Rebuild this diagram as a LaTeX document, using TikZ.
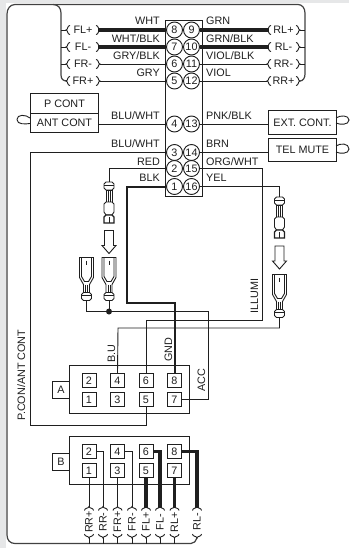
\documentclass[tikz,border=0pt]{standalone}
\usepackage{fontspec}
\setmainfont{Liberation Sans}
\usetikzlibrary{calc}
\definecolor{ink}{HTML}{1F1F1F}
\definecolor{strip}{HTML}{E6E7E8}
\tikzset{
  x=1pt,y=-1pt,
  every node/.style={font=\fontsize{10.8}{11}\selectfont,text=ink,inner sep=0pt},
  wire/.style={draw=ink,line width=0.9pt},
  hwire/.style={draw=ink,line width=3.4pt},
  fwire/.style={draw=ink!85,line width=1.2pt,line join=round},
  bx/.style={draw=ink,line width=1pt,fill=white},
  pin/.style={circle,draw=ink,line width=0.9pt,fill=white,minimum size=16pt},
  sq/.style={rectangle,draw=ink,line width=1pt,fill=white,minimum size=14pt},
  wl/.style={anchor=base east},
  wr/.style={anchor=base west},
  vlab/.style={rotate=90,anchor=base west},
  tlab/.style={rotate=90,anchor=center},
  tip/.pic={\draw[ink,line width=0.9pt] (4,-4.5) .. controls (1.2,-4.5) and (2,0) .. (0,0) .. controls (2,0) and (1.2,4.5) .. (4,4.5);},
  malec/.pic={
    \coordinate (-top) at (0,0);
    \draw[ink,line width=0.9pt,fill=white] (-5,2) -- (-3,0) -- (3,0) -- (5,2) -- (5,6) -- (3,8) -- (-3,8) -- (-5,6) -- cycle;
    \draw[ink,line width=0.9pt] (-5,3) -- (5,3);
    \draw[ink,line width=0.9pt,fill=white] (-3,8) rectangle (3,20);
    \draw[ink,line width=0.9pt] (-1,8) -- (-1,20) (1,8) -- (1,20);
    \draw[ink,line width=0.9pt,fill=white] (-5,22) -- (-3,20) -- (3,20) -- (5,22) -- (5,30) -- (3,33) -- (-3,33) -- (-5,30) -- cycle;
    \draw[ink,line width=1.2pt,fill=white] (-5,35) -- (-3,33) -- (3,33) -- (5,35) -- (5,41) -- (-5,41) -- cycle;
    \draw[ink,line width=0.9pt] (0,35) -- (0,41);
  },
  femc/.pic={
    \coordinate (-bot) at (0,43);
    \draw[ink,line width=0.9pt,fill=white] (-7,0) -- (7,0) -- (7,20) -- (3,27) -- (3,35) -- (5,37) -- (5,41) -- (3,43) -- (-3,43) -- (-5,41) -- (-5,37) -- (-3,35) -- (-3,27) -- (-7,20) -- cycle;
    \draw[ink,line width=0.9pt] (-5,0) -- (-5,19) -- (-2,24) -- (2,24) -- (5,19) -- (5,0);
    \draw[ink,line width=0.9pt] (-3,35) -- (3,35) (-5,38) -- (5,38) (-1,27) -- (-1,35) (1,27) -- (1,35) (0,3) -- (0,7);
  },
  darrow/.pic={
    \draw[ink,line width=0.9pt,fill=white] (-4.5,0) -- (4.5,0) -- (4.5,15) -- (7,15) -- (0,23) -- (-7,15) -- (-4.5,15) -- cycle;
  },
}
\begin{document}
\begin{tikzpicture}
\useasboundingbox (0,0) rectangle (349,548);
\fill[white] (0,0) rectangle (349,548);
\fill[strip] (0,0) rectangle (6.3,548);
\fill[strip] (0,0) rectangle (349,3);

% frame of the speaker loop
\draw[fwire] (67,81) .. controls (63,81) and (61,79) .. (61,75) -- (61,13) .. controls (61,8) and (58,4.5) .. (53,4.5) -- (15,4.5) .. controls (10,4.5) and (7,9) .. (7,14) -- (7,535) .. controls (7,540) and (10,543.5) .. (15,543.5) -- (191,543.5) .. controls (194,543.5) and (196,541) .. (197,538);
\draw[fwire] (53,4.5) -- (298,4.5) .. controls (302,4.5) and (305,8) .. (305,13) -- (305,74) .. controls (305,78) and (303,81) .. (300,81);

% main connector
\node[bx,minimum width=36.5pt,minimum height=176pt,anchor=north west] (conn) at (165,20) {};
\foreach \n/\xx/\yy in {8/174.5/30,7/174.5/47,6/174.5/64,5/174.5/81,4/174.5/124,3/174.5/152.5,2/174.5/168.5,1/174.5/186.5,
  9/191.5/30,10/191.5/47,11/191.5/64,12/191.5/81,13/191.5/124,14/191.5/152.5,15/191.5/168.5,16/191.5/186.5}
  {\node[pin] (p\n) at (\xx,\yy) {\n};}

% speaker terminals, top
\foreach \nm/\txt/\yy in {FLp/FL+/30,FLm/FL-/47,FRm/FR-/64,FRp/FR+/81}{
  \coordinate (a\nm) at (66,\yy);
  \coordinate (b\nm) at (100,\yy);
  \pic at (a\nm) {tip};
  \pic[rotate=180] at (b\nm) {tip};
  \node (l\nm) at (83,\yy) {\txt};
}
\foreach \nm/\txt/\yy in {RLp/RL+/30,RLm/RL-/47,RRm/RR-/64,RRp/RR+/81}{
  \coordinate (a\nm) at (267,\yy);
  \coordinate (b\nm) at (300,\yy);
  \pic at (a\nm) {tip};
  \pic[rotate=180] at (b\nm) {tip};
  \node (l\nm) at (283.5,\yy) {\txt};
}
\draw[hwire] (bFLp) ++(-2,0) -- (p8.west);
\draw[hwire] (bFLm) ++(-2,0) -- (p7.west);
\draw[wire] (bFRm) -- (p6.west);
\draw[wire] (bFRp) -- (p5.west);
\draw[hwire] (p9.east) -- ([xshift=1.5pt]aRLp);
\draw[hwire] (p10.east) -- ([xshift=1.5pt]aRLm);
\draw[wire] (p11.east) -- (aRRm);
\draw[wire] (p12.east) -- (aRRp);
\draw[wire] (aFLp) -- ++(-5,0);
\draw[wire] (aFLm) -- ++(-5,0);
\draw[wire] (aFRm) -- ++(-5,0);
\draw[wire] (bRLp) -- ++(5,0);
\draw[wire] (bRLm) -- ++(5,0);
\draw[wire] (bRRm) -- ++(5,0);

% wire colour labels
\node[wl] at (160,25) {WHT};
\node[wl] at (160,43) {WHT/BLK};
\node[wl] at (160,60) {GRY/BLK};
\node[wl] at (160,77) {GRY};
\node[wl] at (160,120) {BLU/WHT};
\node[wl] at (160,148) {BLU/WHT};
\node[wl] at (160,165) {RED};
\node[wl] at (160,182) {BLK};
\node[wr] at (206,25) {GRN};
\node[wr] at (206,43) {GRN/BLK};
\node[wr] at (206,60) {VIOL/BLK};
\node[wr] at (206,77) {VIOL};
\node[wr] at (206,120) {PNK/BLK};
\node[wr] at (206,148) {BRN};
\node[wr] at (206,165) {ORG/WHT};
\node[wr] at (206,182) {YEL};

% boxes
\node[bx,minimum width=68pt,minimum height=20pt,anchor=north west] (pcont) at (30,93) {P CONT};
\node[bx,minimum width=68pt,minimum height=19.5pt,anchor=north west] (ant) at (30,113) {ANT CONT};
\node[bx,minimum width=68pt,minimum height=24pt,anchor=north west] (ext) at (268,110) {EXT. CONT.};
\node[bx,minimum width=68pt,minimum height=23pt,anchor=north west] (tel) at (268,138) {TEL MUTE};
\draw[wire] (30,118) .. controls (26,114.5) and (17,114) .. (17,119.5) .. controls (17,125) and (26,124) .. (30,123.5);
\draw[wire] (336,118) .. controls (340,115) and (349,115) .. (349,120) .. controls (349,125) and (340,125) .. (336,123);
\draw[wire] (336,146) .. controls (340,143) and (349,143) .. (349,149) .. controls (349,154) and (340,154) .. (336,152);
\draw[wire] (ant.east |- p4) -- (p4.west);
\draw[wire] (p13.east) -- (ext.west |- p13);
\draw[wire] (p14.east) -- (tel.west |- p14);

% plug units
\node[bx,minimum width=120pt,minimum height=48pt,anchor=north west] (boxA) at (69,365) {};
\node[bx,minimum width=17pt,minimum height=17pt,anchor=north west] (tabA) at (52,381) {A};
\node[bx,minimum width=120pt,minimum height=48pt,anchor=north west] (boxB) at (69,436) {};
\node[bx,minimum width=17pt,minimum height=17pt,anchor=north west] (tabB) at (52,453) {B};
\foreach \n/\xx/\yy in {2/89/380.5,4/117.5/380.5,6/146/380.5,8/174.5/380.5,1/89/399.5,3/117.5/399.5,5/146/399.5,7/174.5/399.5}{
  \node[sq] (A\n) at (\xx,\yy) {\n};
  \node[sq] (B\n) at (\xx,\yy+71) {\n};
}

% fast-on connectors
\pic (mA) at (109,182) {malec};
\pic (mB) at (279.5,197) {malec};
\pic at (109,230.5) {darrow};
\pic at (279.5,246) {darrow};
\pic (fA) at (86.5,257.5) {femc};
\pic (fB) at (109,257.5) {femc};
\pic (fC) at (279.5,274.5) {femc};

\coordinate (jn) at (109,311.5);
\coordinate (cL) at (30,425);
\coordinate (rr) at (109,168.5);
\draw[wire] (p2.west) -- (rr) -- (mA-top);
\draw[wire] (fA-bot) |- (jn);
\draw[wire] (fB-bot) -- (jn);
\fill[ink] (jn) circle (3pt);
\draw[wire] (jn) -| (208.5,399.5) -- (A7.east);
\draw[wire] (p3.west) -| (cL) -| (A5.south);
\draw[hwire,line width=2pt,line join=miter] (p1.west) -| (126.5,303) -| (A8.north);
\draw[wire] (p15.east) -| (262.5,320) -| (A6.north);
\draw[wire] (p16.east) -| (mB-top);
\draw[wire] (fC-bot) |- (118,328) -- (A4.north);

% rotated wire names
\node[vlab] at (25,421) {P.CON/ANT CONT};
\node[vlab] at (115,362.5) {B.U};
\node[vlab] at (172,362) {GND};
\node[vlab] at (205,392) {ACC};
\node[vlab] at (258,314) {ILLUMI};

% speaker terminals, bottom
\foreach \nm/\txt/\xx in {rrp/RR+/89,rrm/RR-/103,frp/FR+/117.5,frm/FR-/132,flp/FL+/146,flm/FL-/160,rlp/RL+/174.5,rlm/RL-/197}{
  \coordinate (u\nm) at (\xx,506.5);
  \coordinate (d\nm) at (\xx,538);
  \pic[rotate=-90] at (u\nm) {tip};
  \pic[rotate=90] at (d\nm) {tip};
  \node[tlab] (v\nm) at (\xx,522) {\txt};
}
\draw[wire] (B1.south) -- (urrp);
\draw[wire] (B3.south) -- (ufrp);
\draw[hwire] (B5.south) -- ([yshift=-1.5pt]uflp);
\draw[hwire] (B7.south) -- ([yshift=-1.5pt]urlp);
\draw[wire] (B2.east) -| (urrm);
\draw[wire] (B4.east) -| (ufrm);
\draw[hwire] (B6.east) -| ([yshift=-1.5pt]uflm);
\draw[hwire] (B8.east) -| ([yshift=-1.5pt]urlm);
\foreach \nm in {rrp,rrm,frp,frm,flp,flm,rlp}{\draw[wire] (d\nm) -- ++(0,5.5);}
\end{tikzpicture}
\end{document}
